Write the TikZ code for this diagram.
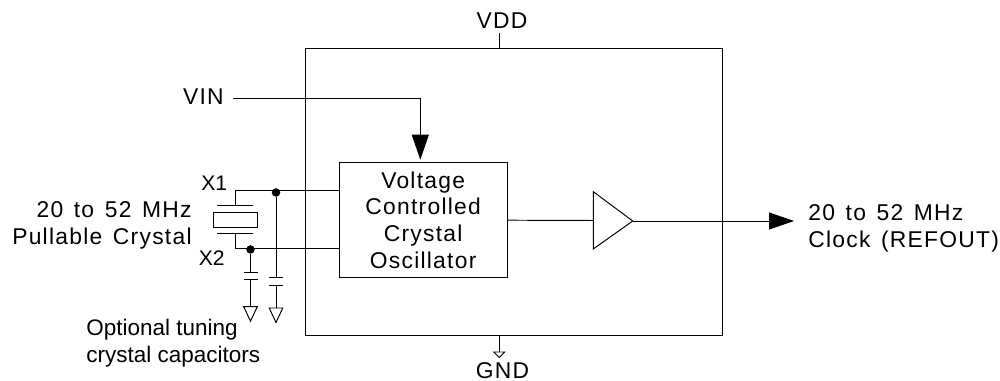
\documentclass[tikz,border=0pt]{standalone}
\usepackage{fontspec}
\setmainfont[LetterSpace=5.5,WordSpace=1.4]{Liberation Sans}
\newfontfamily\tightfont{Liberation Sans}
\usetikzlibrary{arrows.meta}
\tikzset{
  wire/.style={line width=.55pt},
  bigarrow/.style={wire,-{Triangle[length=.5cm,width=.34cm]}},
  label/.style={font=\fontsize{13}{15.3}\selectfont,inner sep=0pt},
  pinlabel/.style={font=\tightfont\fontsize{12}{15}\selectfont,inner sep=0pt},
  small/.style={font=\tightfont\fontsize{12.8}{15.2}\selectfont,inner sep=0pt},
  dot/.style={circle,fill,inner sep=0pt,minimum size=.17cm},
  gnd/.pic={\draw [wire] (-.135,0) -- (.135,0) -- (0,-.29) -- cycle;},
  gndsmall/.pic={\draw [wire] (-.11,0) -- (.11,0) -- (0,-.11) -- cycle;}
}
\begin{document}
\begin{tikzpicture}
  \useasboundingbox (0,0) rectangle (20,7.62);
  \node (chip) [draw,wire,minimum width=8.35cm,minimum height=5.75cm,inner sep=0pt] at (10.275,3.785) {};
  \node (vcxo) [draw,wire,label,align=center,minimum width=3.354cm,minimum height=2.3cm] at (8.463,3.216)
    {Voltage\\Controlled\\Crystal\\Oscillator};
  \node (vdd) [label,anchor=base] at (10.04,7.04) {VDD};
  \node (gndlabel) [label,anchor=base] at (10.05,.054) {GND};
  \node (vin) [label,anchor=base east] at (4.48,5.52) {VIN};
  \node (xonelabel) [pinlabel,anchor=base east] at (4.55,3.808) {X1};
  \node (xtwolabel) [pinlabel,anchor=base east] at (4.5,2.3) {X2};
  \node (xtaltext) [label,align=right,anchor=east] at (3.84,3.11) {20 to 52 MHz\\Pullable Crystal};
  \node (clktext) [label,align=left,anchor=west] at (16.16,3.05) {20 to 52 MHz\\Clock (REFOUT)};
  \node (captext) [small,align=left,anchor=west] at (1.72,.75) {Optional tuning\\crystal capacitors};
  % vin line
  \coordinate (vinstart) at (4.655,5.66);
  \coordinate (vinbend) at (8.406,5.66);
  \draw [bigarrow,shorten >=.05cm] (vinstart) -- (vinbend) -- (vinbend |- vcxo.north);
  % supply pins
  \coordinate (vddpin) at (9.986,6.96);
  \coordinate (gndc) at (9.986,.58);
  \draw [wire] (vddpin) -- (vddpin |- chip.north);
  \draw [wire] (gndc |- chip.south) -- (gndc);
  \pic at (gndc) {gndsmall};
  % crystal
  \node (xtal) [draw,wire,minimum width=.87cm,minimum height=.3cm,inner sep=0pt] at (4.705,3.23) {};
  \coordinate (platetop) at (4.7,3.52);
  \coordinate (platebot) at (4.7,2.96);
  \coordinate (xone) at (4.7,3.806);
  \coordinate (xtwo) at (4.7,2.66);
  \draw [wire] (platetop) ++(-.36,0) -- ++(.72,0);
  \draw [wire] (platebot) ++(-.36,0) -- ++(.72,0);
  \draw [wire] (platetop) -- (xone) -- (xone -| vcxo.west);
  \draw [wire] (platebot) -- (xtwo) -- (xtwo -| vcxo.west);
  % tuning caps
  \node (dotone) [dot] at (5.01,2.63) {};
  \node (dottwo) [dot] at (5.52,3.77) {};
  \coordinate (capa) at (5.01,2.18);
  \coordinate (capb) at (5.01,2.026);
  \coordinate (capc) at (5.52,2.07);
  \coordinate (capd) at (5.52,1.92);
  \coordinate (gnda) at (5.01,1.486);
  \coordinate (gndb) at (5.52,1.46);
  \draw [wire] (dotone) -- (capa);
  \draw [wire] (capb) -- (gnda);
  \draw [wire] (dottwo) -- (capc);
  \draw [wire] (capd) -- (gndb);
  \foreach \c in {capa,capb,capc,capd}
    \draw [wire] (\c) ++(-.14,0) -- ++(.28,0);
  \pic at (gnda) {gnd};
  \pic at (gndb) {gnd};
  % buffer
  \coordinate (buftop) at (11.866,3.786);
  \coordinate (bufbot) at (11.866,2.64);
  \coordinate (bufout) at (12.654,3.2);
  \coordinate (bufin) at (11.866,3.21);
  \coordinate (clkend) at (15.88,3.2);
  \draw [wire] (buftop) -- (bufout) -- (bufbot) -- cycle;
  \draw [wire] (vcxo.east) -- (bufin);
  \draw [bigarrow] (bufout) -- (clkend);
\end{tikzpicture}
\end{document}
